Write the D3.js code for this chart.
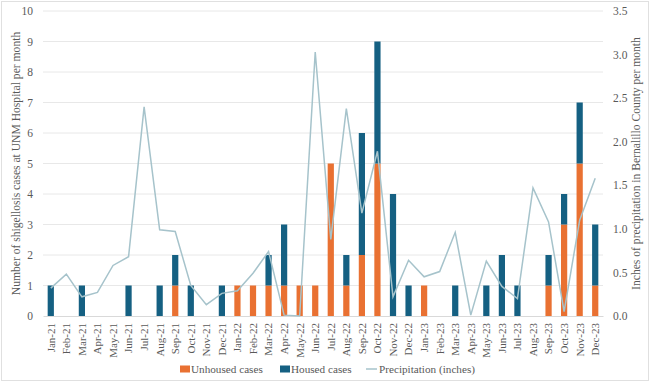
<!doctype html>
<html>
<head>
<meta charset="utf-8">
<script src="https://cdn.jsdelivr.net/npm/d3@7/dist/d3.min.js"></script>
<style>
  body { margin:0; background:#fff; }
  svg { display:block; }
</style>
</head>
<body>
<script>
// months Jan-21 .. Dec-23
var months = ["Jan-21","Feb-21","Mar-21","Apr-21","May-21","Jun-21","Jul-21","Aug-21","Sep-21","Oct-21","Nov-21","Dec-21",
              "Jan-22","Feb-22","Mar-22","Apr-22","May-22","Jun-22","Jul-22","Aug-22","Sep-22","Oct-22","Nov-22","Dec-22",
              "Jan-23","Feb-23","Mar-23","Apr-23","May-23","Jun-23","Jul-23","Aug-23","Sep-23","Oct-23","Nov-23","Dec-23"];
var unhoused = [0,0,0,0,0,0,0,0,1,0,0,0, 1,1,1,1,1,1,5,1,2,5,0,0, 1,0,0,0,0,0,0,0,1,3,5,1];
var housed   = [1,0,1,0,0,1,0,1,1,1,0,1, 0,0,1,2,0,0,0,1,4,4,4,1, 0,0,1,0,1,2,1,0,1,1,2,2];
var precip   = [0.32,0.48,0.22,0.27,0.58,0.68,2.40,0.99,0.97,0.35,0.13,0.26,
                0.29,0.49,0.74,0.01,0.0,3.03,0.88,2.38,1.18,1.89,0.22,0.64,
                0.45,0.51,0.96,0.01,0.63,0.34,0.20,1.47,1.08,0.05,1.10,1.58];
var leftTicks = d3.range(0, 11);
var rightTicks = [0,0.5,1,1.5,2,2.5,3,3.5];

var W = 650, H = 382;
var m = {left:43, right:47, top:11, bottom:66};
var FONT = "'Liberation Serif', 'Times New Roman', serif";
var GREY = "#595959";

var svg = d3.select("body").append("svg").attr("width", W).attr("height", H)
    .attr("font-family", FONT);

// chart border
svg.append("rect").attr("x",1.5).attr("y",1.5).attr("width",W-3).attr("height",H-3)
    .attr("fill","#fff").attr("stroke","#e0e0e0");

var x = d3.scaleBand().domain(months).range([m.left, W-m.right]).paddingInner(0.6).paddingOuter(0.3);
var y = d3.scaleLinear().domain([0,10]).range([H-m.bottom, m.top]);
var y2 = d3.scaleLinear().domain([0,3.5]).range([H-m.bottom, m.top]);

// gridlines
svg.append("g").selectAll("line").data(leftTicks.slice(1)).enter().append("line")
    .attr("x1", m.left).attr("x2", W-m.right)
    .attr("y1", function(d){ return y(d); }).attr("y2", function(d){ return y(d); })
    .attr("stroke","#e8e8e8");

// left axis
var ya = svg.append("g").attr("transform","translate("+m.left+",0)")
    .call(d3.axisLeft(y).tickValues(leftTicks).tickSize(0).tickPadding(10))
    .attr("font-family", FONT);
ya.select(".domain").remove();
ya.selectAll("text").style("font-size","11.5px").style("fill",GREY);

// right axis
var yb = svg.append("g").attr("transform","translate("+(W-m.right)+",0)")
    .call(d3.axisRight(y2).tickValues(rightTicks).tickSize(0).tickPadding(10))
    .attr("font-family", FONT);
yb.select(".domain").remove();
yb.selectAll("text").style("font-size","11.5px").style("fill",GREY);

// x axis
var xa = svg.append("g").attr("transform","translate(0,"+(H-m.bottom)+")")
    .call(d3.axisBottom(x).tickSize(0))
    .attr("font-family", FONT);
xa.select(".domain").attr("stroke","#d9d9d9");
xa.selectAll("text").style("font-size","11px").style("fill",GREY)
    .attr("text-anchor","end").attr("transform","rotate(-90)")
    .attr("x",-7).attr("y",0).attr("dx",0).attr("dy","0.35em");

// stacked bars
var bars = svg.append("g");
bars.selectAll(".un").data(months).enter().append("rect")
    .attr("x", function(d){ return x(d); })
    .attr("width", x.bandwidth())
    .attr("y", function(d,i){ return y(unhoused[i]); })
    .attr("height", function(d,i){ return y(0) - y(unhoused[i]); })
    .attr("fill","#e97132");
bars.selectAll(".ho").data(months).enter().append("rect")
    .attr("x", function(d){ return x(d); })
    .attr("width", x.bandwidth())
    .attr("y", function(d,i){ return y(unhoused[i] + housed[i]); })
    .attr("height", function(d,i){ return y(unhoused[i]) - y(unhoused[i] + housed[i]); })
    .attr("fill","#156082");

// precipitation line
var line = d3.line()
    .x(function(d,i){ return x(months[i]) + x.bandwidth()/2; })
    .y(function(d){ return y2(d); });
svg.append("path").datum(precip).attr("d", line)
    .attr("fill","none").attr("stroke","#a6c3cb").attr("stroke-width",1.5);

// axis titles
svg.append("text").attr("transform","translate(20,"+((m.top+H-m.bottom)/2)+") rotate(-90)")
    .attr("text-anchor","middle").attr("fill",GREY).style("font-size","11.6px")
    .text("Number of shigellosis cases at UNM Hospital per month");
svg.append("text").attr("transform","translate(640,"+((m.top+H-m.bottom)/2)+") rotate(-90)")
    .attr("text-anchor","middle").attr("fill",GREY).style("font-size","11.6px")
    .text("Inches of precipitation in Bernalillo County per month");

// legend
var lg = svg.append("g").attr("transform","translate(0,369)").attr("fill",GREY).style("font-size","11.2px");
lg.append("rect").attr("x",180).attr("y",-3.5).attr("width",10).attr("height",7).attr("fill","#e97132");
lg.append("text").attr("x",191).attr("y",4).text("Unhoused cases");
lg.append("rect").attr("x",280).attr("y",-3.5).attr("width",10).attr("height",7).attr("fill","#156082");
lg.append("text").attr("x",291).attr("y",4).text("Housed cases");
lg.append("line").attr("x1",366).attr("x2",377).attr("y1",0).attr("y2",0).attr("stroke","#a6c3cb").attr("stroke-width",1.5);
lg.append("text").attr("x",379).attr("y",4).text("Precipitation (inches)");
</script>
</body>
</html>
